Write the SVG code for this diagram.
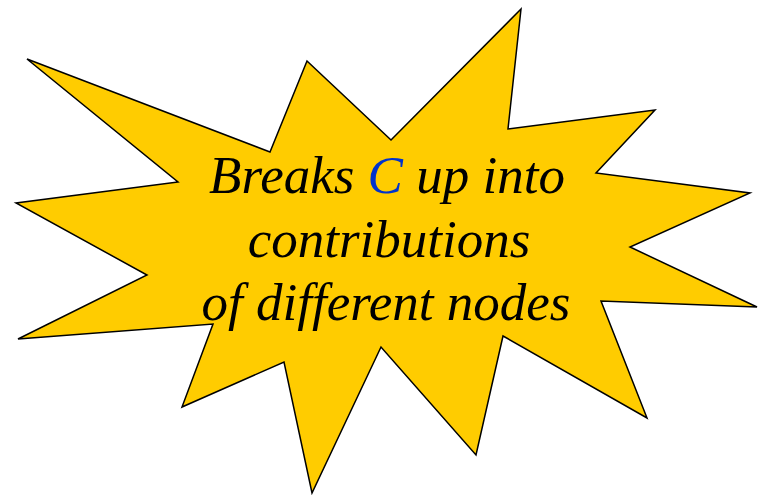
<svg xmlns="http://www.w3.org/2000/svg" width="758" height="495" viewBox="0 0 758 495">
<style>
.burst{fill:#FFCC00;stroke:#000;stroke-width:1.5;stroke-linejoin:miter}
.t{font-family:"Liberation Serif","Times New Roman",serif;font-style:italic;font-size:53px;fill:#000;text-anchor:middle}
.blue{fill:#0033CC}
</style>
<rect width="758" height="495" fill="#fff"/>
<g id="burst">
<polygon class="burst" points="27,59 270,152 307,61 391,140 521,9 508,129 655,110 596,173 750,193 630,247 757,307 601,301 647,418 503,336 476,455 381,347 312,493 284,362 182,407 213,324 18,339 147,275 16,203 178,182"/>
<text class="t" x="387" y="193">Breaks <tspan class="blue">C</tspan> up into</text>
<text class="t" x="389" y="257">contributions</text>
<text class="t" x="386" y="320">of different nodes</text>
</g>
</svg>
